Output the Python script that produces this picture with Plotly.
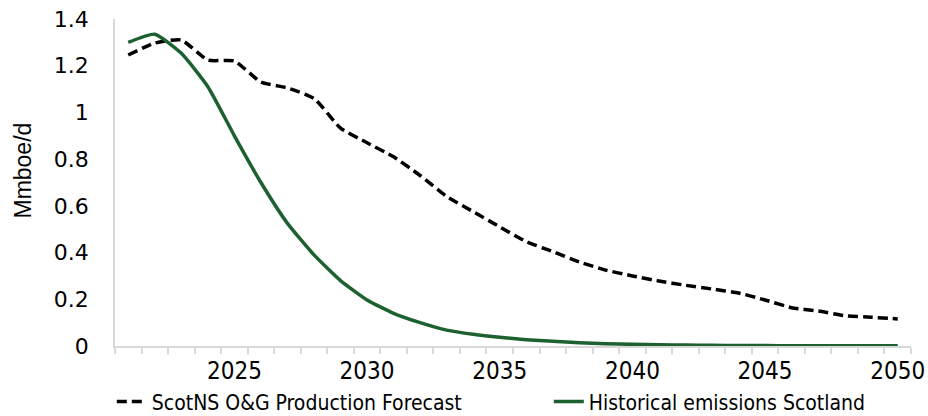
import plotly.graph_objects as go

years = list(range(2021, 2051))
forecast = [1.246, 1.297, 1.31, 1.224, 1.22, 1.13, 1.105, 1.06, 0.933, 0.87,
            0.81, 0.73, 0.64, 0.575, 0.51, 0.447, 0.404, 0.36, 0.325, 0.30,
            0.278, 0.26, 0.244, 0.227, 0.197, 0.164, 0.15, 0.13, 0.123, 0.116]
historical = [1.30, 1.335, 1.253, 1.11, 0.90, 0.70, 0.525, 0.39, 0.28, 0.197,
              0.14, 0.10, 0.068, 0.05, 0.037, 0.027, 0.02, 0.014, 0.01, 0.007,
              0.005, 0.004, 0.003, 0.002, 0.002, 0.001, 0.001, 0.001, 0.001, 0.001]
x_tick_vals = [2025, 2030, 2035, 2040, 2045, 2050]
y_tick_vals = [0, 0.2, 0.4, 0.6, 0.8, 1, 1.2, 1.4]
y_tick_text = ["0", "0.2", "0.4", "0.6", "0.8", "1", "1.2", "1.4"]

fig = go.Figure()
fig.add_trace(go.Scatter(
    x=years, y=forecast, mode="lines", name="ScotNS O&G Production Forecast",
    line=dict(color="#000000", width=3.5, dash="10px,5px", shape="spline", smoothing=0.5),
))
fig.add_trace(go.Scatter(
    x=years, y=historical, mode="lines", name="Historical emissions Scotland",
    line=dict(color="#1E6130", width=3.5, shape="spline", smoothing=0.5),
))

fig.update_layout(
    width=928, height=416,
    margin=dict(l=115, r=17, t=19, b=70, autoexpand=False),
    paper_bgcolor="white", plot_bgcolor="white",
    showlegend=True,
    legend=dict(
        orientation="h", x=-0.004, xanchor="left", y=-0.171, yanchor="middle",
        font=dict(family="DejaVu Sans Condensed", size=21, color="#000000"),
        entrywidth=392, entrywidthmode="pixels",
        bgcolor="rgba(0,0,0,0)",
    ),
    annotations=[dict(
        text="Mmboe/d", textangle=-90, xref="paper", yref="paper",
        x=-0.115, y=0.538, xanchor="center", yanchor="middle", showarrow=False,
        font=dict(family="Liberation Sans", size=23, color="#000000"),
    )],
)

fig.update_xaxes(
    range=[2020.5, 2050.5], tickmode="array", tickvals=x_tick_vals,
    ticks="outside", ticklen=2, tickcolor="rgba(0,0,0,0)",
    showgrid=False, zeroline=False,
    showline=True, linecolor="#D9D9D9", linewidth=1.5,
    tickfont=dict(family="DejaVu Sans Condensed", size=24, color="#000000"),
    minor=dict(tickmode="linear", tick0=2020.5, dtick=1, ticks="outside",
               ticklen=6, tickcolor="#D9D9D9", tickwidth=1.5, showgrid=False),
)
fig.update_yaxes(
    range=[0, 1.4], tickmode="array", tickvals=y_tick_vals, ticktext=y_tick_text,
    ticks="", showgrid=False, zeroline=False,
    showline=True, linecolor="#D9D9D9", linewidth=1.5,
    ticklabelstandoff=20,
    tickfont=dict(family="DejaVu Sans", size=22, color="#000000"),
)

fig.write_html("out.html")
